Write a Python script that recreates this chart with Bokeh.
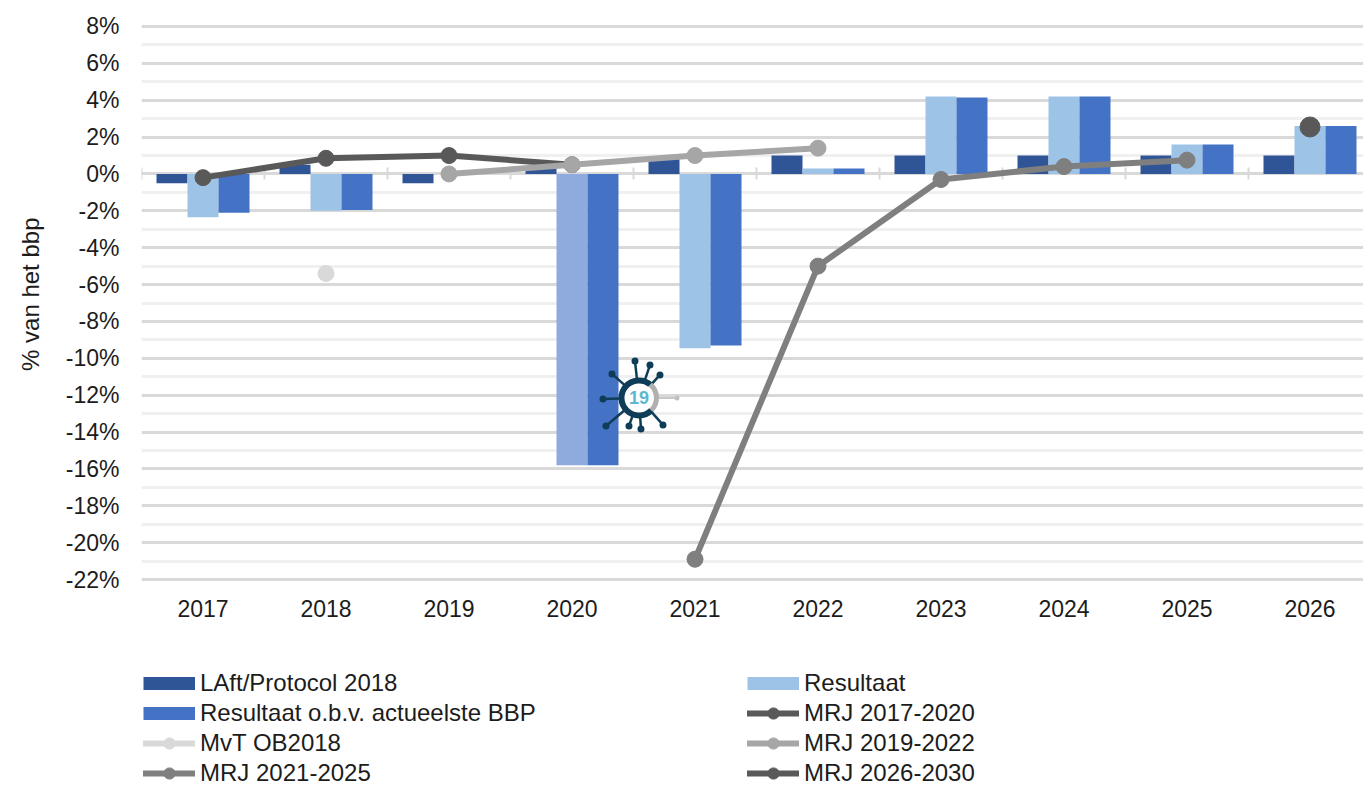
from math import nan, radians
from bokeh.plotting import figure
from bokeh.layouts import column
from bokeh.models import FixedTicker, LinearAxis, Legend, LegendItem, Range1d, PrintfTickFormatter, Title
from bokeh.core.properties import value
from bokeh.embed import file_html
from bokeh.resources import INLINE

FONT = "Liberation Sans"
years = ["2017", "2018", "2019", "2020", "2021", "2022", "2023", "2024", "2025", "2026"]
laft = [-0.5, 0.5, -0.5, 0.3, 0.8, 1.0, 1.0, 1.0, 1.0, 1.0]
resultaat = [-2.35, -2.0, nan, -15.8, -9.45, 0.3, 4.2, 4.2, 1.6, 2.6]
resultaat_bbp = [-2.1, -1.95, nan, -15.8, -9.3, 0.3, 4.15, 4.2, 1.6, 2.6]
resultaat_colors = ["#9dc3e6", "#9dc3e6", "#9dc3e6", "#8faadc", "#9dc3e6", "#9dc3e6",
                    "#9dc3e6", "#9dc3e6", "#9dc3e6", "#9dc3e6"]
mrj_1720 = [-0.2, 0.85, 1.0, 0.5, nan, nan, nan, nan, nan, nan]
mvt_ob18 = [nan, -5.4, nan, nan, nan, nan, nan, nan, nan, nan]
mrj_1922 = [nan, nan, 0.0, 0.5, 1.0, 1.4, nan, nan, nan, nan]
mrj_2125 = [nan, nan, nan, nan, -20.9, -5.0, -0.3, 0.4, 0.75, nan]
mrj_2630 = [nan, nan, nan, nan, nan, nan, nan, nan, nan, 2.55]
y_ticks = list(range(-22, 9, 2))
y_minor = list(range(-21, 8, 2))

xs = list(range(len(years)))
PX_X, PX_Y = 123.0, 18.43
TXT = "#1c1c1c"

p = figure(frame_width=1222, frame_height=557, output_backend="svg", toolbar_location=None,
           x_range=Range1d(-0.5, -0.5 + 1222 / PX_X), y_range=Range1d(-22.108, 8.108),
           min_border_left=141, min_border_right=0, min_border_top=24, min_border_bottom=59,
           background_fill_color="white", border_fill_color="white", outline_line_color=None)

# grid
p.xgrid.visible = False
p.ygrid.ticker = FixedTicker(ticks=y_ticks, minor_ticks=y_minor)
p.ygrid.grid_line_color = "#d9d9d9"
p.ygrid.grid_line_width = 3
p.ygrid.minor_grid_line_color = "#f0f0f0"
p.ygrid.minor_grid_line_width = 3

# y axis
p.yaxis.ticker = FixedTicker(ticks=y_ticks)
p.yaxis.formatter = PrintfTickFormatter(format="%d%%")
p.yaxis.axis_line_color = None
p.yaxis.major_tick_line_color = None
p.yaxis.minor_tick_line_color = None
p.yaxis.major_label_text_font = FONT
p.yaxis.major_label_text_font_size = "23px"
p.yaxis.major_label_text_color = TXT
p.yaxis.major_label_standoff = 16

ylabel = Title(text="% van het bbp", align="right", offset=193, standoff=33, vertical_align="top",
               text_font=FONT, text_font_size="24px", text_font_style="normal", text_color=TXT)
p.add_layout(ylabel, "left")

# x axis labels
p.xaxis.ticker = FixedTicker(ticks=xs)
p.xaxis.major_label_overrides = {i: y for i, y in enumerate(years)}
p.xaxis.axis_line_color = None
p.xaxis.major_tick_line_color = None
p.xaxis.minor_tick_line_color = None
p.xaxis.major_label_text_font = FONT
p.xaxis.major_label_text_font_size = "23px"
p.xaxis.major_label_text_color = TXT
p.xaxis.major_label_standoff = 12

# zero axis with ticks between categories
zero = LinearAxis(fixed_location=0, ticker=FixedTicker(ticks=[i - 0.5 for i in xs]),
                  major_label_text_font_size="0px", major_label_text_color=None,
                  axis_line_color="#d9d9d9", axis_line_width=3,
                  major_tick_line_color="#d9d9d9", major_tick_line_width=2,
                  major_tick_in=6, major_tick_out=6, minor_tick_line_color=None)
zero.level = "underlay"
p.add_layout(zero, "below")

# bars
W = 31 / PX_X
p.vbar(x=[i - W for i in xs], top=laft, bottom=0, width=W, fill_color="#2f5597", line_color=None)
p.vbar(x=xs, top=resultaat, bottom=0, width=W, fill_color=resultaat_colors, line_color=None)
p.vbar(x=[i + W for i in xs], top=resultaat_bbp, bottom=0, width=W, fill_color="#4472c4", line_color=None)

# lines
def series(vals, color, size=16):
    p.line(xs, vals, line_color=color, line_width=6, line_join="round")
    p.scatter(xs, vals, size=size, fill_color=color, line_color=color)

series(mvt_ob18, "#d9d9d9")
series(mrj_1720, "#595959")
series(mrj_1922, "#a6a6a6")
series(mrj_2125, "#7f7f7f")
series(mrj_2630, "#595959", size=20)

# corona icon
ICON_X, ICON_Y = 3.5445, -12.15
DARK = "#0f3d57"
spike_dx = [-4, 11, 21, 24, 2, -10, -33, -36, -27]
spike_dy = [-37, -33, -23, 27, 31, 28, 28, 1, -24]
sx = [ICON_X + d / PX_X for d in spike_dx]
sy = [ICON_Y - d / PX_Y for d in spike_dy]
p.segment([ICON_X] * len(sx), [ICON_Y] * len(sx), sx, sy, line_color=DARK, line_width=2.5)
p.scatter(sx, sy, size=7, fill_color=DARK, line_color=None)
gx, gy = ICON_X + 38 / PX_X, ICON_Y
p.segment([ICON_X], [ICON_Y], [gx], [gy], line_color="#c8c8c8", line_width=2)
p.scatter([gx], [gy], size=5, fill_color="#c0c0c0", line_color=None)
p.scatter([ICON_X], [ICON_Y], size=36, fill_color="white", line_color=None)
p.arc([ICON_X], [ICON_Y], radius=17.5, radius_units="screen", start_angle=radians(-45),
      end_angle=radians(50), line_color="#b0b0b0", line_width=5)
p.arc([ICON_X], [ICON_Y], radius=17.5, radius_units="screen", start_angle=radians(50),
      end_angle=radians(315), line_color=DARK, line_width=6)
p.text([ICON_X], [ICON_Y], text=["19"], text_align="center", text_baseline="middle",
       text_color="#5bb8d0", text_font=value(FONT), text_font_size="18px", text_font_style="bold")

# legend in its own strip below the chart
lf = figure(width=1363, height=145, output_backend="svg", toolbar_location=None,
            x_axis_location=None, y_axis_location=None, x_range=Range1d(0, 1), y_range=Range1d(0, 1),
            min_border=0, outline_line_color=None, background_fill_color="white",
            border_fill_color="white")
lf.xgrid.visible = False
lf.ygrid.visible = False

def swatch(color):
    return [lf.line([nan], [nan], line_color=color, line_width=13, line_cap="butt")]

def proxy(color):
    return [lf.line([nan], [nan], line_color=color, line_width=6, line_cap="round"),
            lf.scatter([nan], [nan], fill_color=color, line_color=color)]

items = [
    LegendItem(label="LAft/Protocol 2018", renderers=swatch("#2f5597")),
    LegendItem(label="Resultaat o.b.v. actueelste BBP", renderers=swatch("#4472c4")),
    LegendItem(label="MvT OB2018", renderers=proxy("#d9d9d9")),
    LegendItem(label="MRJ 2021-2025", renderers=proxy("#7f7f7f")),
    LegendItem(label="Resultaat", renderers=swatch("#9dc3e6")),
    LegendItem(label="MRJ 2017-2020", renderers=proxy("#595959")),
    LegendItem(label="MRJ 2019-2022", renderers=proxy("#a6a6a6")),
    LegendItem(label="MRJ 2026-2030", renderers=proxy("#595959")),
]
legend = Legend(items=items, ncols=2, location=(2, -2), padding=0, margin=0, spacing=2,
                glyph_width=52, glyph_height=28, label_standoff=5, label_width=545, label_height=22,
                label_text_font=FONT, label_text_font_size="24px", label_text_color=TXT,
                background_fill_alpha=0, border_line_color=None)
lf.add_layout(legend, "center")

page = column(p, lf, spacing=0)
open("out.html", "w").write(file_html(page, INLINE))
